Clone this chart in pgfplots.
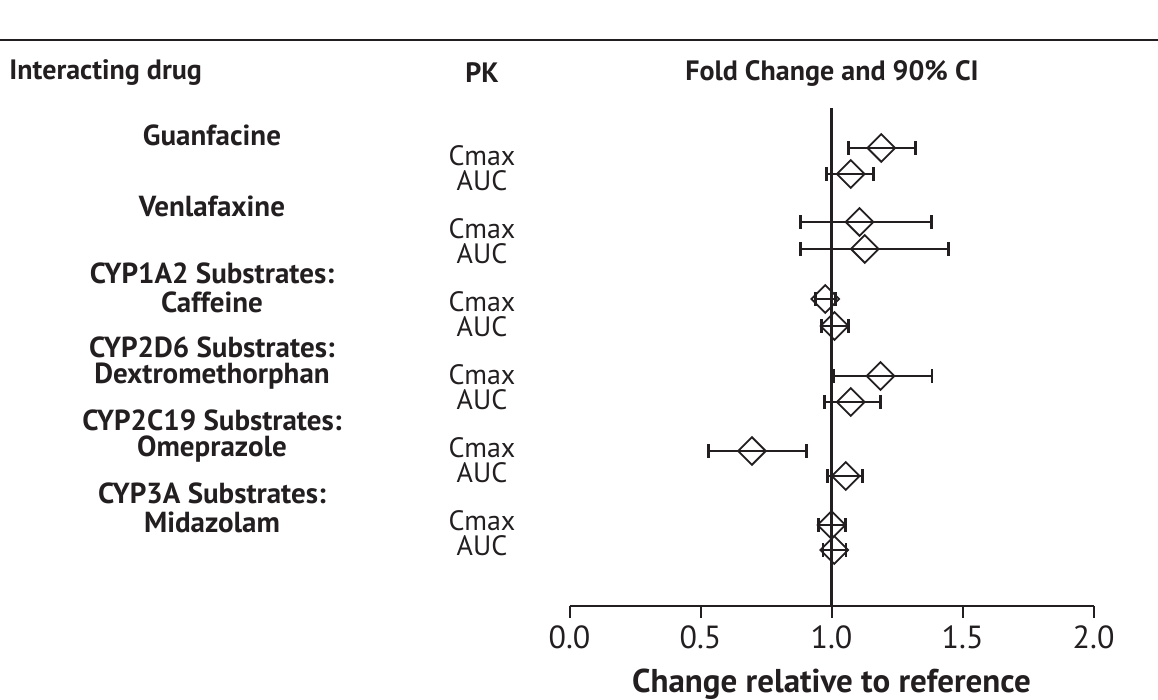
\documentclass[border=0pt]{standalone}
\usepackage{pgfplots}
\pgfplotsset{compat=1.18}
\usepackage{fontspec}
\setmainfont{PT Sans}
\definecolor{ink}{RGB}{35,31,32}
\pgfplotstableread{
x      y     ep     em
1.190  -148  0.130  0.125
1.073  -174  0.087  0.093
1.107  -222  0.273  0.227
1.127  -249  0.318  0.247
0.976  -299  0.039  0.036
1.011  -326  0.054  0.049
1.187  -376  0.196  0.180
1.073  -402  0.114  0.101
0.696  -451  0.207  0.166
1.054  -476  0.064  0.069
1.000  -525  0.054  0.050
1.010  -550  0.045  0.043
}\fcdata
\begin{document}
\begin{tikzpicture}
\path[use as bounding box] (0pt,0pt) rectangle (579pt,350pt);
\def\hd{\fontsize{14}{16}\selectfont\bfseries}
\def\bl{\fontsize{14.5}{16}\selectfont\bfseries}
\def\rg{\fontsize{14}{15}\selectfont}
% top rule
\draw[ink, line width=1pt] (0pt,330pt) -- (579pt,330pt);
% headers
\node[anchor=west, inner sep=0pt, text=ink] at (4.5pt,313.5pt) {\hd Interacting drug};
\node[inner sep=0pt, text=ink] at (241pt,313.5pt) {\hd PK};
\node[inner sep=0pt, text=ink] at (416pt,313.5pt) {\hd Fold Change and 90\% CI};
% left labels
\begin{scope}[every node/.style={inner sep=0pt, text=ink}]
\node at (106pt,282.5pt) {\bl Guanfacine};
\node at (106pt,247pt) {\bl Venlafaxine};
\node at (106pt,213.5pt) {\bl CYP1A2 Substrates:};
\node at (106pt,199pt) {\bl Caffeine};
\node at (106pt,176.5pt) {\bl CYP2D6 Substrates:};
\node at (106pt,162pt) {\bl Dextromethorphan};
\node at (106pt,140pt) {\bl CYP2C19 Substrates:};
\node at (106pt,125.5pt) {\bl Omeprazole};
\node at (106pt,103.5pt) {\bl CYP3A Substrates:};
\node at (106pt,89pt) {\bl Midazolam};
% PK labels
\node at (241pt,272pt) {\rg Cmax};
\node at (241pt,259.5pt) {\rg AUC};
\node at (241pt,235.5pt) {\rg Cmax};
\node at (241pt,223pt) {\rg AUC};
\node at (241pt,199pt) {\rg Cmax};
\node at (241pt,186.5pt) {\rg AUC};
\node at (241pt,162.5pt) {\rg Cmax};
\node at (241pt,150pt) {\rg AUC};
\node at (241pt,126pt) {\rg Cmax};
\node at (241pt,113.5pt) {\rg AUC};
\node at (241pt,89.5pt) {\rg Cmax};
\node at (241pt,77pt) {\rg AUC};
\end{scope}
\begin{axis}[
  at={(284.75pt,47pt)}, anchor=south west,
  scale only axis, width=262.05pt, height=249pt,
  xmin=0, xmax=2, ymin=-606, ymax=-108,
  axis x line=bottom, axis y line=none,
  axis line style={-, ink, line width=1pt},
  xtick={0,0.5,1,1.5,2}, ytick=\empty,
  tick align=outside, major tick length=6pt,
  every tick/.style={ink, line width=1pt},
  xticklabel style={font=\fontsize{16}{18}\selectfont, text=ink, yshift=-0.5pt,
    /pgf/number format/.cd, fixed, fixed zerofill, precision=1, assume math mode=true},
  xlabel={\bfseries Change relative to reference},
  xlabel style={font=\fontsize{16.5}{19}\selectfont, text=ink, at={(axis description cs:0.5,0)}, anchor=center, yshift=-39pt},
  clip=false,
]
\addplot[ink, line width=1.1pt] coordinates {(1,-108) (1,-606)};
\addplot[ink, only marks, mark=square, mark size=4.9pt,
  mark options={rotate=45, line width=0.9pt, fill=none},
  error bars/.cd, x dir=both, x explicit,
  error bar style={ink, line width=1pt},
  error mark options={ink, rotate=90, line width=1.4pt, mark size=3.4pt}]
  table[x=x, y=y, x error plus=ep, x error minus=em] {\fcdata};
\end{axis}
\end{tikzpicture}
\end{document}
